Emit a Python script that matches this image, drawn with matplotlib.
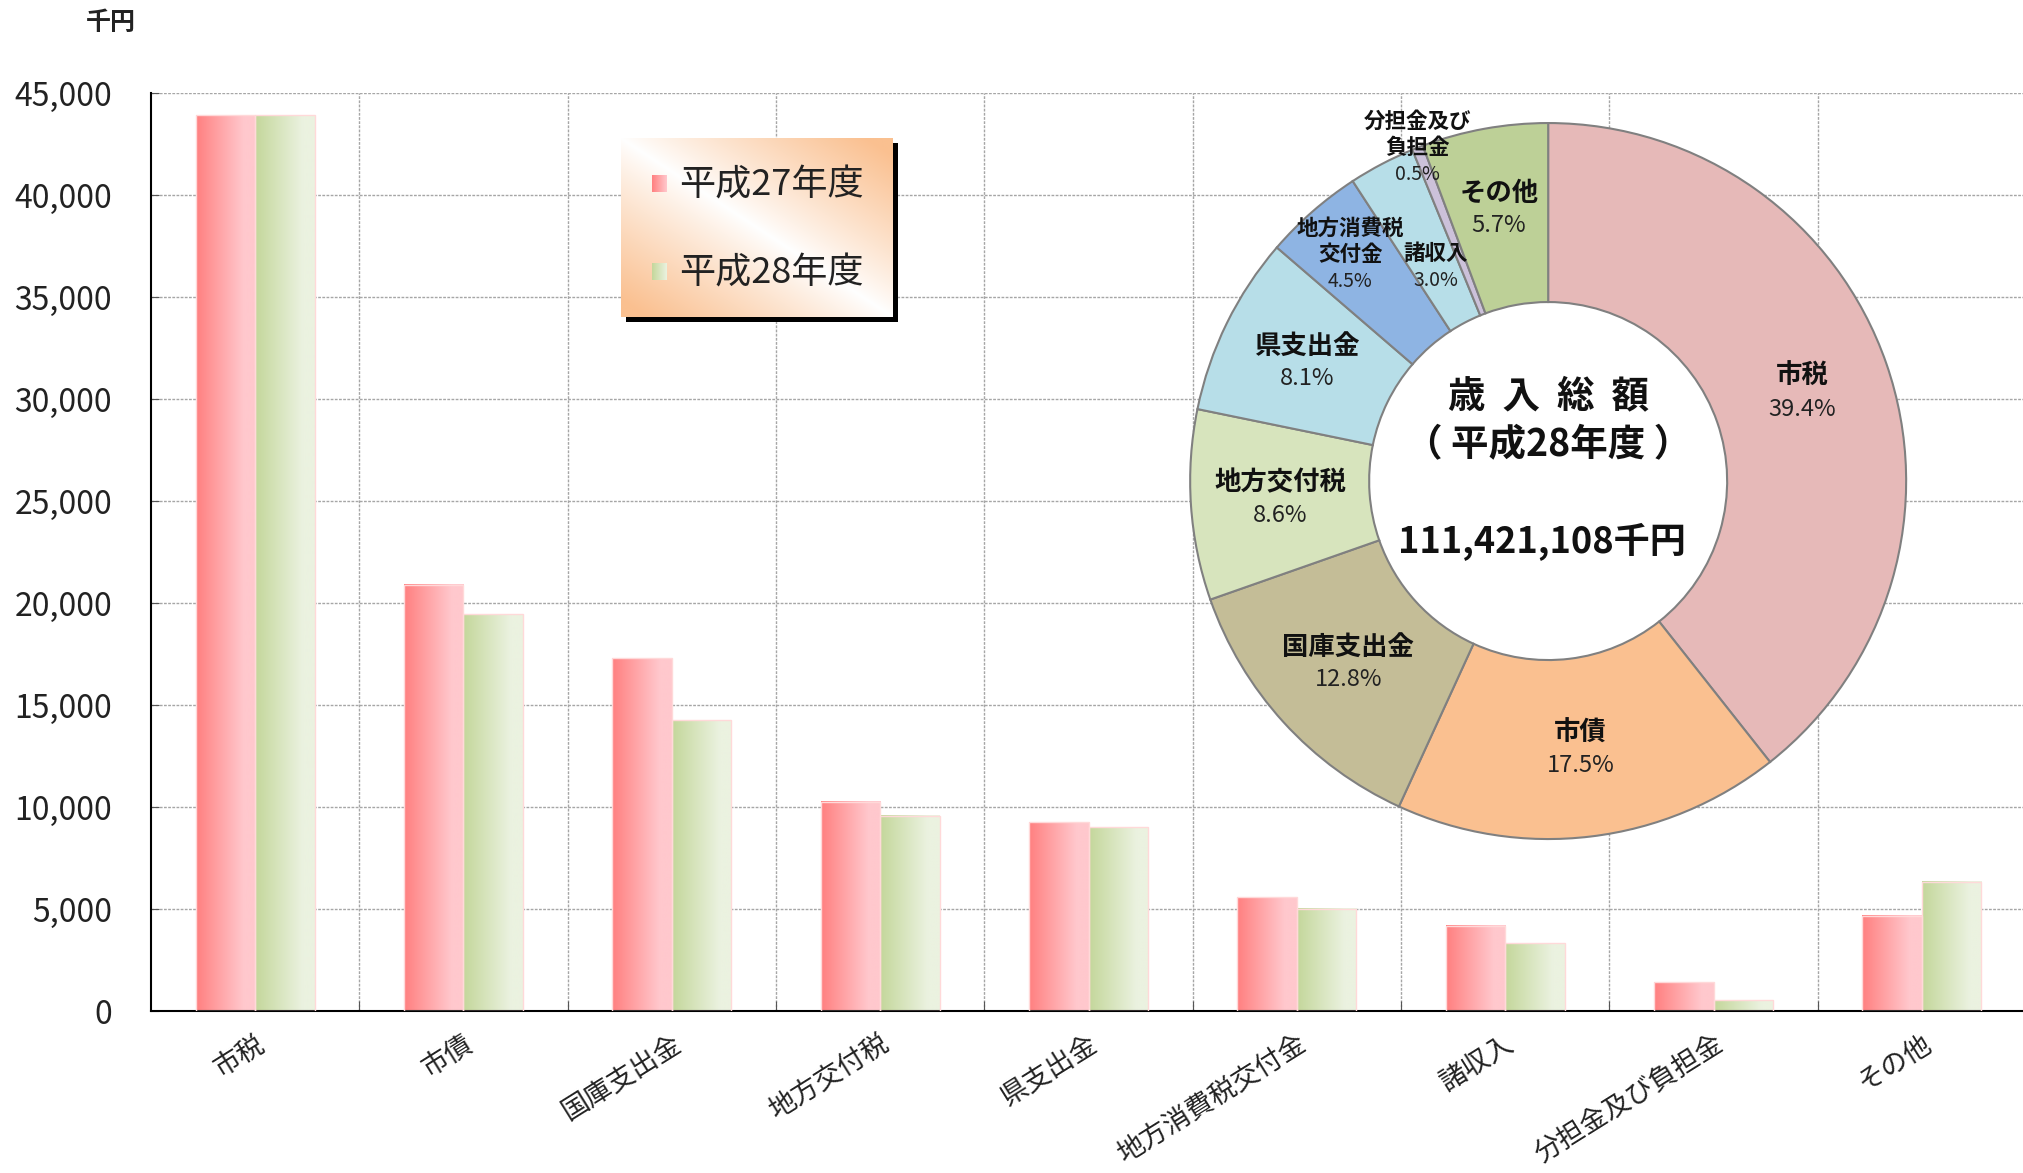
import numpy as np
import matplotlib
matplotlib.use('Agg')
import matplotlib.pyplot as plt
from matplotlib.patches import Circle
from matplotlib.ticker import FuncFormatter, FixedLocator

plt.rcParams['font.family'] = ['Noto Sans CJK JP', 'DejaVu Sans']

# bar chart data (千円)
categories = ['市税', '市債', '国庫支出金', '地方交付税', '県支出金',
              '地方消費税交付金', '諸収入', '分担金及び負担金', 'その他']
h27_values = [43900, 20900, 17300, 10250, 9250, 5570, 4180, 1400, 4680]
h28_values = [43900, 19450, 14250, 9560, 9000, 5010, 3320, 530, 6330]
years = ['平成27年度', '平成28年度']

# donut data (平成28年度)
pie_labels = ['市税', '市債', '国庫支出金', '地方交付税', '県支出金',
              '地方消費税\n交付金', '諸収入', '分担金及び\n負担金', 'その他']
pie_shares = [39.4, 17.5, 12.8, 8.6, 8.1, 4.5, 3.0, 0.5, 5.7]
pie_colors = ['#E6B9B8', '#FAC090', '#C4BD97', '#D7E4BD', '#B7DEE8',
              '#8EB4E3', '#B7DEE8', '#CCC1DA', '#BDD097']
center_title = ['歳  入  総  額', '（ 平成28年度 ）']
total_text = '111,421,108千円'

# gradient colours for the bars (left -> right)
red_grad = ((255, 128, 128), (255, 200, 205))
green_grad = ((196, 215, 155), (235, 242, 224))


def grad_rgb(c_left, c_right, n=128, stop=0.8):
    t = np.clip(np.linspace(0, 1, n) / stop, 0, 1)
    a = np.array(c_left) / 255.0
    b = np.array(c_right) / 255.0
    return ((1 - t)[:, None] * a + t[:, None] * b)[None, :, :]


def gradient_bars(ax, bars, grad):
    img = grad_rgb(*grad)
    for b in bars:
        x, w, h = b.get_x(), b.get_width(), b.get_height()
        ax.imshow(img, extent=[x, x + w, 0, h], aspect='auto',
                  interpolation='bilinear', zorder=2)
        b.set_facecolor('none')
        b.set_edgecolor('#FFD9D9')
        b.set_linewidth(1.0)
        b.set_zorder(3)


fig = plt.figure(figsize=(20.24, 11.73), dpi=100)

# ---- bar chart ----
ax = fig.add_axes([0.0746, 0.1381, 0.9264, 0.7826])
x = np.arange(len(categories))
w = 0.285
bars27 = ax.bar(x - w / 2, h27_values, width=w)
bars28 = ax.bar(x + w / 2, h28_values, width=w)
gradient_bars(ax, bars27, red_grad)
gradient_bars(ax, bars28, green_grad)

ax.set_xlim(-0.5, len(categories) - 0.5)
ax.set_ylim(0, 45000)
ax.set_yticks(np.arange(0, 45001, 5000))
ax.yaxis.set_major_formatter(FuncFormatter(lambda v, p: f'{int(v):,}'))
ax.xaxis.set_major_locator(FixedLocator(np.arange(0.5, len(categories) - 0.5, 1)))
ax.xaxis.set_minor_locator(FixedLocator(x))
ax.set_xticklabels([], minor=False)
ax.set_xticklabels(categories, minor=True, rotation=32, ha='right', va='top',
                   rotation_mode='anchor', fontsize=19.5, color='#222222')
ax.tick_params(axis='x', which='major', direction='in', length=7, color='#555555')
ax.tick_params(axis='x', which='minor', length=0, pad=14)
ax.tick_params(axis='y', direction='in', length=6, color='#555555', pad=28,
               labelsize=23, labelcolor='#222222')
ax.grid(True, which='major', color='#A6A6A6', linestyle=(0, (2, 1)), linewidth=1)
ax.set_axisbelow(True)
for s in ['top', 'right']:
    ax.spines[s].set_visible(False)
ax.spines['left'].set_linewidth(1.5)
ax.spines['bottom'].set_linewidth(1.5)

fig.text(111 / 2024, 1 - 23 / 1173, '千円', ha='center', va='center',
         fontsize=18, fontweight='bold', color='#222222')

# ---- legend box with shadow ----
lx, ly, lw_, lh = 621 / 2024, 1 - 317 / 1173, 272 / 2024, 179 / 1173
sh = fig.add_axes([lx + 5 / 2024, ly - 5 / 1173, lw_, lh])
sh.set_facecolor('black')
sh.set_xticks([])
sh.set_yticks([])
for s in sh.spines.values():
    s.set_visible(False)

lg = fig.add_axes([lx, ly, lw_, lh])
u = np.linspace(0, 1, 300)[None, :]
v = np.linspace(1, 0, 200)[:, None]
t = np.clip(np.abs(u + v - 1) * 1.1, 0, 1) ** 0.9
orange = np.array([250, 192, 144]) / 255.0
bg = 1 - t[:, :, None] * (1 - orange)
lg.imshow(bg, extent=[0, 1, 0, 1], aspect='auto', interpolation='bilinear')
for yy, grad, label in [(0.745, red_grad, years[0]), (0.255, green_grad, years[1])]:
    lg.imshow(grad_rgb(*grad, stop=1.0), extent=[0.114, 0.169, yy - 0.047, yy + 0.047],
              aspect='auto', interpolation='bilinear', zorder=2)
    lg.text(0.215, yy - 0.01, label, ha='left', va='center', fontsize=26, color='#222222')
lg.set_xlim(0, 1)
lg.set_ylim(0, 1)
lg.axis('off')

# ---- donut ----
pa = fig.add_axes([0.5880, 0.2847, 0.3538, 0.6104])
wedges, _ = pa.pie(pie_shares, colors=pie_colors, startangle=90, counterclock=False,
                   radius=1, wedgeprops=dict(width=0.5, edgecolor='#808080', linewidth=1.5))
pa.add_patch(Circle((0, 0), 0.5, facecolor='white', edgecolor='none', zorder=0))
pa.set_xlim(-1, 1)
pa.set_ylim(-1, 1)
pa.set_aspect('equal')
pa.axis('off')

label_radius = [0.75, 0.755, 0.755, 0.75, 0.75, 0.84, 0.675, 1.0, 0.77]
small = [False, False, False, False, False, True, True, True, False]
for wd, name, share, r, sm in zip(wedges, pie_labels, pie_shares, label_radius, small):
    mid = np.deg2rad((wd.theta1 + wd.theta2) / 2)
    x0, y0 = r * np.cos(mid), r * np.sin(mid)
    lines = name.split('\n')
    step = 0.074 if sm else 0.09
    n = len(lines) + 1
    top = y0 + (n - 1) / 2 * step
    for k, ln in enumerate(lines):
        pa.text(x0, top - k * step, ln, ha='center', va='center',
                fontsize=15.5 if sm else 19, fontweight='bold', color='#111111')
    pa.text(x0, top - len(lines) * step, f'{share:.1f}%', ha='center', va='center',
            fontsize=14 if sm else 17, color='#222222')

pa.text(0, 0.238, center_title[0], ha='center', va='center', fontsize=27,
        fontweight='bold', color='#111111')
pa.text(0, 0.101, center_title[1], ha='center', va='center', fontsize=27,
        fontweight='bold', color='#111111')
pa.text(-0.018, -0.17, total_text, ha='center', va='center', fontsize=26,
        fontweight='bold', color='#111111')

fig.savefig('out.png', dpi=100)
